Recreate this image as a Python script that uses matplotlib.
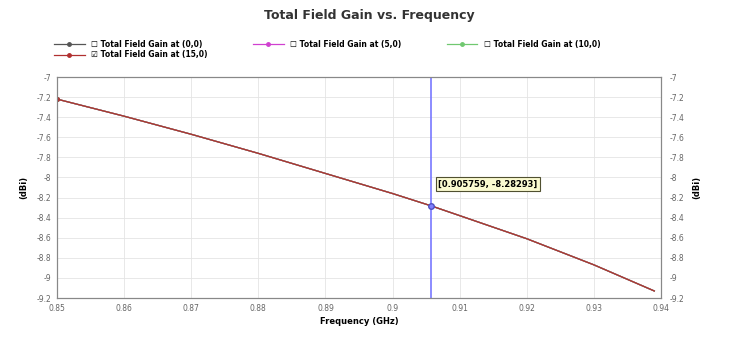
import matplotlib.pyplot as plt
import numpy as np

# data
freq = [0.85, 0.86, 0.87, 0.88, 0.89, 0.90, 0.905759, 0.91, 0.92, 0.93, 0.939]
gain = [-7.22, -7.39, -7.57, -7.76, -7.96, -8.16, -8.28293, -8.38, -8.61, -8.87, -9.13]
series = ['Total Field Gain at (0,0)', 'Total Field Gain at (5,0)',
          'Total Field Gain at (10,0)', 'Total Field Gain at (15,0)']
colors = ['#555555', '#d040d0', '#70c870', '#b03030']
checked = [False, False, False, True]
cursor_x = 0.905759
cursor_y = -8.28293
xticks = [0.85, 0.86, 0.87, 0.88, 0.89, 0.9, 0.91, 0.92, 0.93, 0.94]
yticks = [-7, -7.2, -7.4, -7.6, -7.8, -8, -8.2, -8.4, -8.6, -8.8, -9, -9.2]

fig = plt.figure(figsize=(7.39, 3.45), dpi=100)
ax = fig.add_axes([0.0771, 0.1362, 0.8174, 0.6406])

lines = []
for name, c, chk in zip(series, colors, checked):
    box = '\u2611' if chk else '\u2610'
    l, = ax.plot(freq, gain, color=c, lw=0.9, marker='o', markersize=2.5,
                 markevery=[0], label=box + ' ' + name)
    lines.append(l)

ax.axvline(cursor_x, color='#7878ff', lw=1.2)
ax.plot([cursor_x], [cursor_y], marker='o', ms=4, color='#8080ff', mec='#5050c0')
ax.annotate('[%g, %g]' % (cursor_x, cursor_y), xy=(cursor_x, cursor_y),
            xytext=(0.9068, -8.065), fontsize=6, fontweight='bold', va='center',
            bbox=dict(boxstyle='square,pad=0.25', fc='#fafad0', ec='#505030', lw=0.8))

ax.set_xlim(0.85, 0.94)
ax.set_ylim(-9.2, -7)
ax.set_xticks(xticks)
ax.set_xticklabels(['%g' % t for t in xticks])
ax.set_yticks(yticks)
ax.set_yticklabels(['%g' % t for t in yticks])
ax.grid(color='#e4e4e4', lw=0.6)
ax.tick_params(labelsize=5.5, colors='#666666', length=0, pad=4)
for s in ax.spines.values():
    s.set_color('#888888')

ax2 = ax.twinx()
ax2.set_ylim(-9.2, -7)
ax2.set_yticks(yticks)
ax2.set_yticklabels(['%g' % t for t in yticks])
ax2.tick_params(labelsize=5.5, colors='#666666', length=0, pad=6)
for s in ax2.spines.values():
    s.set_color('#888888')

ax.set_xlabel('Frequency (GHz)', fontsize=6, fontweight='bold', labelpad=3)
ax.set_ylabel('(dBi)', fontsize=6, fontweight='bold', labelpad=6)
ax2.set_ylabel('(dBi)', fontsize=6, fontweight='bold', labelpad=6)

fig.suptitle('Total Field Gain vs. Frequency', fontsize=9, fontweight='bold',
             x=0.5, y=0.975, color='#333333')
# legend fills column-wise, so reorder to get (15,0) under (0,0)
order = [0, 3, 1, 2]
fig.legend([lines[i] for i in order], [lines[i].get_label() for i in order],
           loc='upper left', bbox_to_anchor=(0.064, 0.905), ncol=3, frameon=False,
           handlelength=4, columnspacing=6.0, labelspacing=0.2,
           prop={'weight': 'bold', 'size': 5.5})

fig.savefig('out.png', dpi=100)
